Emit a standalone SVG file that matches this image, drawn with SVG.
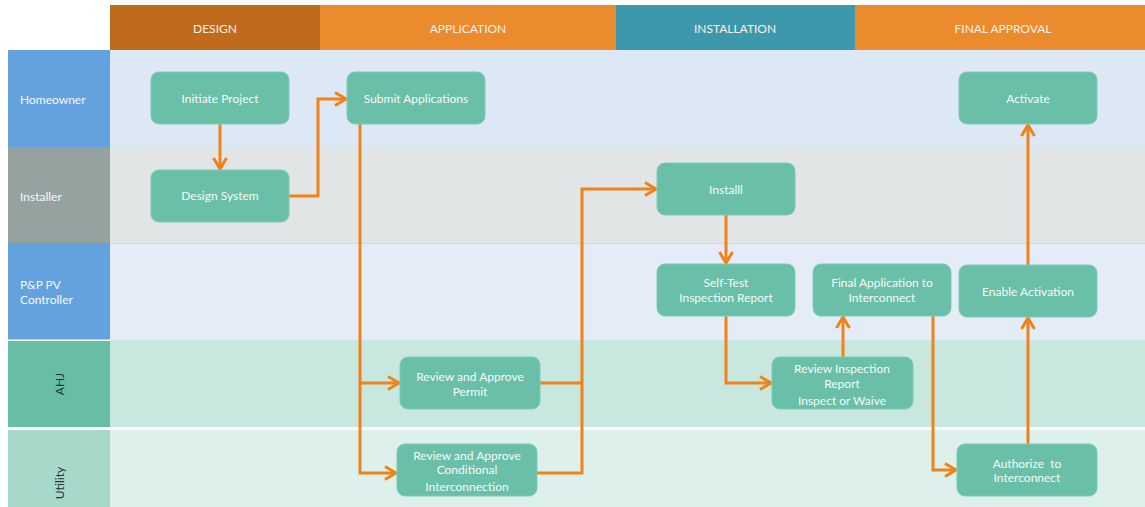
<svg xmlns="http://www.w3.org/2000/svg" width="1145" height="507" viewBox="0 0 1145 507">
  <defs>
    <style>
      .hdr { font-family: Lato, "Liberation Sans", sans-serif; font-size: 12px; fill: #FBF1E6; text-anchor: middle; }
      .lane-lbl { font-family: Lato, "Liberation Sans", sans-serif; font-size: 12px; fill: #F4F8FC; }
      .lane-lbl.dark { fill: #24332F; text-anchor: middle; }
      .node rect { fill: #69BFA7; stroke: #7ECBB5; stroke-width: 1; }
      .node text { font-family: Lato, "Liberation Sans", sans-serif; font-size: 12px; fill: #F5FBF9; text-anchor: middle; }
      .conn { fill: none; stroke: #EF8319; stroke-width: 3; stroke-linejoin: miter; }
    </style>
    <marker id="arrow" viewBox="0 0 16 16" markerUnits="userSpaceOnUse" markerWidth="16" markerHeight="16" refX="13" refY="8" orient="auto">
      <path d="M2,1.5 L13,8 L2,14.5" fill="none" stroke="#EF8319" stroke-width="3"/>
    </marker>
  </defs>

  <rect x="0" y="0" width="1145" height="507" fill="#FFFFFF"/>

  <!-- phase header -->
  <g id="phases">
    <rect x="110" y="5" width="210" height="45" fill="#BF6B1B"/>
    <rect x="320" y="5" width="296" height="45" fill="#EB8B2D"/>
    <rect x="616" y="5" width="239" height="45" fill="#3D98AC"/>
    <rect x="855" y="5" width="290" height="45" fill="#EB8B2D"/>
    <text class="hdr" x="215" y="33">DESIGN</text>
    <text class="hdr" x="468" y="33">APPLICATION</text>
    <text class="hdr" x="735" y="33">INSTALLATION</text>
    <text class="hdr" x="1003" y="33">FINAL APPROVAL</text>
  </g>

  <!-- swimlane bands -->
  <g id="lanes">
    <rect x="110" y="50" width="1035" height="97" fill="#DCE8F6"/>
    <rect x="110" y="147" width="1035" height="96" fill="#E1E5E6"/>
    <rect x="110" y="243" width="1035" height="97" fill="#E4EDF7"/>
    <line x1="110" y1="243.5" x2="1145" y2="243.5" stroke="#CFDBE6" stroke-width="1"/>
    <rect x="110" y="340" width="1035" height="88" fill="#C8E7DE"/>
    <rect x="110" y="430" width="1035" height="77" fill="#DEF0EB"/>

    <rect x="8" y="50" width="102" height="97" fill="#64A1DF"/>
    <rect x="8" y="147" width="102" height="96" fill="#95A2A0"/>
    <rect x="8" y="243" width="102" height="97" fill="#64A1DF"/>
    <rect x="8" y="341" width="102" height="87" fill="#67BEA5"/>
    <rect x="8" y="430" width="102" height="77" fill="#A6D9C9"/>

    <!-- white separators between lanes -->
    <rect x="8" y="427" width="1137" height="3" fill="#FFFFFF"/>
    <rect x="8" y="339.5" width="102" height="1.5" fill="#FFFFFF"/>

    <text class="lane-lbl" x="20" y="104">Homeowner</text>
    <text class="lane-lbl" x="20" y="201">Installer</text>
    <text class="lane-lbl" x="20" y="289">P&amp;P PV</text>
    <text class="lane-lbl" x="20" y="304">Controller</text>
    <text class="lane-lbl dark" transform="translate(64,384) rotate(-90)">AHJ</text>
    <text class="lane-lbl dark" transform="translate(64,483) rotate(-90)">Utility</text>
  </g>

  <!-- connectors -->
  <g id="connectors">
    <path class="conn" d="M220,124 L220,169" marker-end="url(#arrow)"/>
    <path class="conn" d="M289,196 L318,196 L318,99 L346,99" marker-end="url(#arrow)"/>
    <path class="conn" d="M360,124 L360,473 L396,473" marker-end="url(#arrow)"/>
    <path class="conn" d="M360,383 L399,383" marker-end="url(#arrow)"/>
    <path class="conn" d="M540,383 L582,383"/>
    <path class="conn" d="M537,473 L582,473 L582,189 L656,189" marker-end="url(#arrow)"/>
    <path class="conn" d="M726,215 L726,263" marker-end="url(#arrow)"/>
    <path class="conn" d="M726,316 L726,383 L771,383" marker-end="url(#arrow)"/>
    <path class="conn" d="M843,357 L843,317" marker-end="url(#arrow)"/>
    <path class="conn" d="M933,316 L933,470 L956,470" marker-end="url(#arrow)"/>
    <path class="conn" d="M1028,444 L1028,318" marker-end="url(#arrow)"/>
    <path class="conn" d="M1028,265 L1028,125" marker-end="url(#arrow)"/>
  </g>

  <!-- process steps -->
  <g id="initiate-project" class="node">
    <rect x="151" y="72" width="138" height="52" rx="8"/>
    <text x="220" y="103">Initiate Project</text>
  </g>
  <g id="submit-applications" class="node">
    <rect x="347" y="72" width="138" height="52" rx="8"/>
    <text x="416" y="103">Submit Applications</text>
  </g>
  <g id="activate" class="node">
    <rect x="959" y="72" width="138" height="52" rx="8"/>
    <text x="1028" y="103">Activate</text>
  </g>
  <g id="design-system" class="node">
    <rect x="151" y="170" width="138" height="52" rx="8"/>
    <text x="220" y="200">Design System</text>
  </g>
  <g id="install" class="node">
    <rect x="657" y="163" width="138" height="52" rx="8"/>
    <text x="726" y="194">Installl</text>
  </g>
  <g id="self-test" class="node">
    <rect x="657" y="264" width="138" height="52" rx="8"/>
    <text x="726" y="287">Self-Test</text>
    <text x="726" y="302">Inspection Report</text>
  </g>
  <g id="final-application" class="node">
    <rect x="813" y="264" width="138" height="52" rx="8"/>
    <text x="882" y="287">Final Application to</text>
    <text x="882" y="302">Interconnect</text>
  </g>
  <g id="enable-activation" class="node">
    <rect x="959" y="265" width="138" height="52" rx="8"/>
    <text x="1028" y="296">Enable Activation</text>
  </g>
  <g id="review-permit" class="node">
    <rect x="400" y="357" width="140" height="52" rx="8"/>
    <text x="470" y="381">Review and Approve</text>
    <text x="470" y="396">Permit</text>
  </g>
  <g id="review-inspection" class="node">
    <rect x="772" y="357" width="141" height="52" rx="8"/>
    <text x="842" y="373">Review Inspection</text>
    <text x="842" y="388">Report</text>
    <text x="842" y="405">Inspect or Waive</text>
  </g>
  <g id="review-interconnection" class="node">
    <rect x="397" y="444" width="140" height="52" rx="8"/>
    <text x="467" y="460">Review and Approve</text>
    <text x="467" y="474">Conditional</text>
    <text x="467" y="491">Interconnection</text>
  </g>
  <g id="authorize" class="node">
    <rect x="957" y="444" width="140" height="52" rx="8"/>
    <text x="1027" y="468" xml:space="preserve">Authorize  to</text>
    <text x="1027" y="482">Interconnect</text>
  </g>
</svg>
